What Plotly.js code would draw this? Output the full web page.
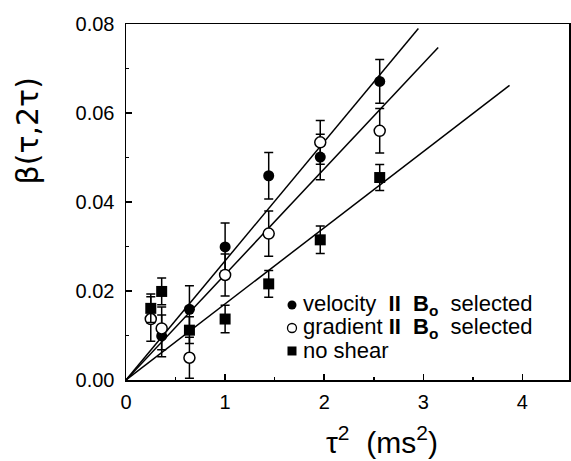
<!DOCTYPE html>
<html><head><meta charset="utf-8">
<script src="https://cdn.plot.ly/plotly-3.0.1.min.js"></script>
<style>html,body{margin:0;padding:0;background:#fff}#chart{width:571px;height:461px}</style>
</head><body><div id="chart"></div>
<script>
// tau^2 (ms^2)
const tauSq = [0.25, 0.36, 0.64, 1.0, 1.44, 1.96, 2.56];

const velocityX = [0.36, 0.64, 1.0, 1.44, 1.96, 2.56];
const velocityY = [0.0099, 0.0159, 0.0299, 0.0459, 0.0501, 0.0671];
const velocityErr = [0.0047, 0.0053, 0.0054, 0.0052, 0.0051, 0.0049];

const gradientX = tauSq;
const gradientY = [0.0137, 0.0116, 0.0050, 0.0236, 0.0329, 0.0534, 0.0560];
const gradientErr = [0.0050, 0.0048, 0.0046, 0.0047, 0.0051, 0.0049, 0.0050];

const noShearX = tauSq;
const noShearY = [0.0161, 0.0199, 0.0112, 0.0137, 0.0216, 0.0315, 0.0455];
const noShearErr = [0.0032, 0.0030, 0.0030, 0.0031, 0.0030, 0.0031, 0.0029];

// fitted straight lines (end points)
const velocityFitX = [0, 2.95], velocityFitY = [0, 0.0790];
const gradientFitX = [0, 3.15], gradientFitY = [0, 0.0747];
const noShearFitX = [0, 3.87], noShearFitY = [0, 0.0662];

const seriesNames = [
  'velocity\u00a0\u00a0<b>II</b>\u00a0\u00a0<b>B<sub>o</sub></b>\u00a0\u00a0selected',
  'gradient\u00a0<b>II</b>\u00a0\u00a0<b>B<sub>o</sub></b>\u00a0\u00a0selected',
  'no shear'
];
const yTickVals = [0, 0.02, 0.04, 0.06, 0.08];
const xTickVals = [0, 1, 2, 3, 4];

const FONT = 'Liberation Sans, Arial, Helvetica, sans-serif';

function fitLine(x, y) {
  return {x: x, y: y, type: 'scatter', mode: 'lines', showlegend: false,
    hoverinfo: 'skip', line: {color: '#000', width: 1.5}};
}
function err(arr) {
  return {type: 'data', array: arr, visible: true, color: '#000', thickness: 1.5, width: 4.5};
}

const traces = [
  fitLine(velocityFitX, velocityFitY),
  fitLine(gradientFitX, gradientFitY),
  fitLine(noShearFitX, noShearFitY),
  {x: velocityX, y: velocityY, error_y: err(velocityErr), type: 'scatter', mode: 'markers',
    name: seriesNames[0], showlegend: false, marker: {symbol: 'circle', size: 11, color: '#000'}},
  {x: gradientX, y: gradientY, error_y: err(gradientErr), type: 'scatter', mode: 'markers',
    name: seriesNames[1], showlegend: false, marker: {symbol: 'circle', size: 11, color: '#fff', line: {color: '#000', width: 1.5}}},
  {x: noShearX, y: noShearY, error_y: err(noShearErr), type: 'scatter', mode: 'markers',
    name: seriesNames[2], showlegend: false, marker: {symbol: 'square', size: 11, color: '#000'}}
];

const axisCommon = {
  showline: true, linecolor: '#000', linewidth: 1.5, mirror: true,
  ticks: 'inside', ticklen: 6, tickwidth: 1.5, tickcolor: '#000',
  showgrid: false, zeroline: false,
  tickfont: {family: FONT, size: 20, color: '#000'}
};

// legend key geometry (paper coordinates of the plot area)
const legendKeyX = 0.3747, legendTextX = 0.3950;
const legendRowsY = [0.2107, 0.1461, 0.0815];
const legendKeys = [
  {type: 'circle', fill: '#000'},
  {type: 'circle', fill: '#fff'},
  {type: 'rect', fill: '#000'}
];
const shapes = legendKeys.map((k, i) => ({
  type: k.type, xref: 'paper', yref: 'paper', xsizemode: 'pixel', ysizemode: 'pixel',
  xanchor: legendKeyX, yanchor: legendRowsY[i],
  x0: -4.5, x1: 4.5, y0: -4.5, y1: 4.5,
  fillcolor: k.fill, line: {color: '#000', width: k.fill === '#fff' ? 1.3 : 0}
}));
const legendAnn = seriesNames.map((t, i) => ({
  text: t, xref: 'paper', yref: 'paper', x: legendTextX, y: legendRowsY[i],
  xanchor: 'left', yanchor: 'middle', showarrow: false,
  font: {family: FONT, size: 22, color: '#000'}
}));

const layout = {
  width: 571, height: 461,
  margin: {l: 126, r: 2, t: 24, b: 81},
  paper_bgcolor: '#fff', plot_bgcolor: '#fff',
  font: {family: FONT, color: '#000'},
  showlegend: false,
  xaxis: Object.assign({}, axisCommon, {
    range: [0, 4.47], tickvals: xTickVals, ticktext: xTickVals.map(String),
    minor: {ticks: 'inside', ticklen: 3, tickwidth: 1.5, tickcolor: '#000', dtick: 0.5, tick0: 0},
    ticklabelstandoff: 3
  }),
  yaxis: Object.assign({}, axisCommon, {
    range: [0, 0.08], tickvals: yTickVals, ticktext: yTickVals.map(v => v.toFixed(2)),
    minor: {ticks: 'inside', ticklen: 3, tickwidth: 1.5, tickcolor: '#000', dtick: 0.01, tick0: 0},
    ticklabelstandoff: 6
  }),
  shapes: shapes,
  annotations: legendAnn.concat([
    {text: 'β(τ,2τ)', xref: 'paper', yref: 'paper', x: -0.222, y: 0.70, textangle: -90,
      showarrow: false, xanchor: 'center', yanchor: 'middle',
      font: {family: 'DejaVu Sans, Liberation Sans, sans-serif', size: 30, color: '#000'}},
    {text: 'τ<sup>2</sup>\u00a0\u00a0(ms<sup>2</sup>)', xref: 'paper', yref: 'paper', x: 0.578, y: -0.1685,
      showarrow: false, xanchor: 'center', yanchor: 'middle', font: {family: FONT, size: 30, color: '#000'}}
  ])
};

Plotly.newPlot('chart', traces, layout, {staticPlot: true, displayModeBar: false});
</script>
</body></html>
